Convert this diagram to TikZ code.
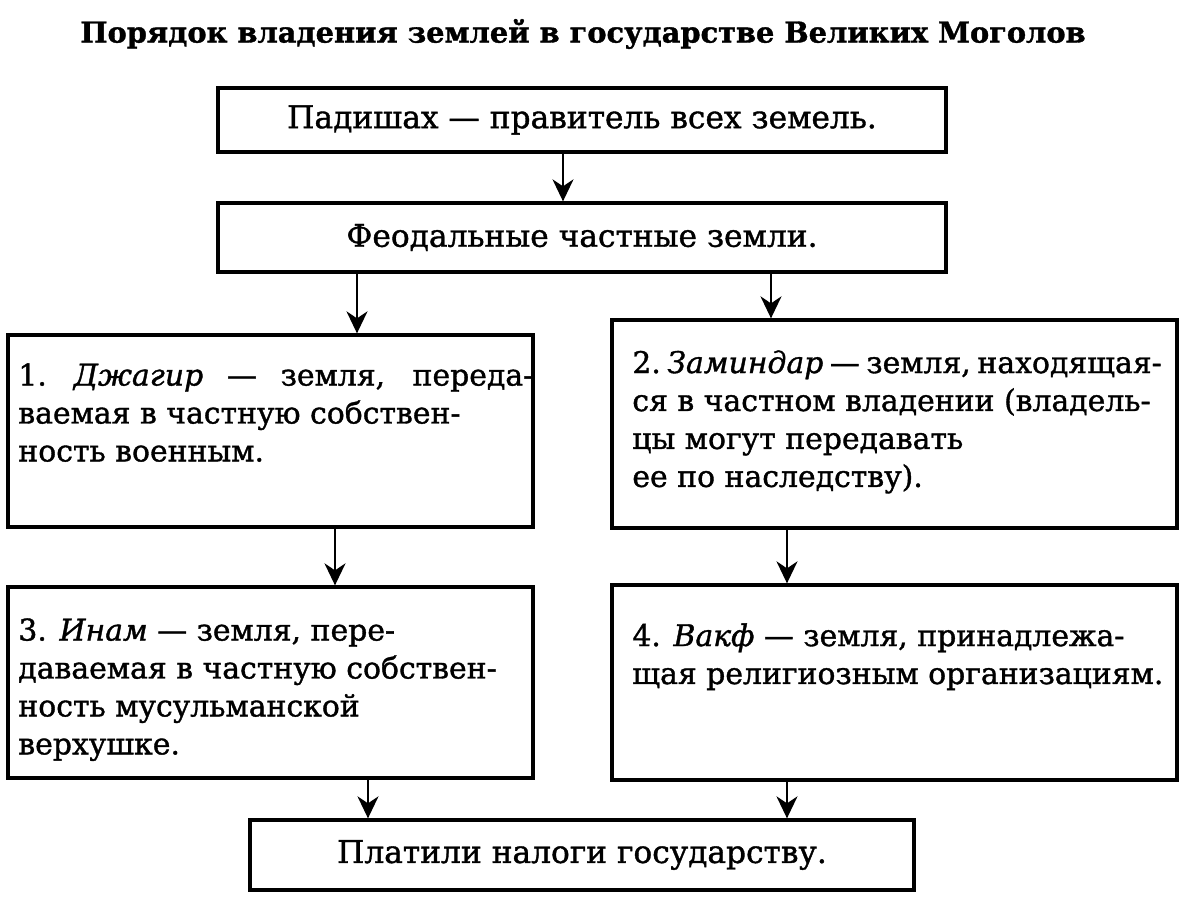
\documentclass[tikz,border=0pt]{standalone}
\usepackage{fontspec}
\setmainfont{DejaVu Serif}[FakeBold=1.2]
\usetikzlibrary{arrows.meta}
\usetikzlibrary{shapes,fit,calc,positioning}

\begin{document}
\begin{tikzpicture}[x=0.02cm,y=-0.02cm,
    box/.style={draw, line width=1.9pt, inner sep=0pt},
    txt/.style={anchor=north west, align=left, inner sep=0pt, font=\fontsize{17}{21.6}\selectfont},
    arr/.style={-{Stealth[length=0.44cm,width=0.42cm,inset=0.14cm]}, line width=1.2pt}]
			\useasboundingbox (0,0) rectangle (1188,906);
			% Define nodes
			\node[font=\fontsize{16.4}{19}\selectfont\bfseries] (ttl) at (583,34) {Порядок владения землей в государстве Великих Моголов}; %
			\node[box, minimum width=14.56cm, minimum height=1.28cm, font=\fontsize{17.8}{21}\selectfont] (pad) at (582,120) {Падишах — правитель всех земель.}; %
			\node[box, minimum width=14.56cm, minimum height=1.38cm, font=\fontsize{17.8}{21}\selectfont] (feod) at (582,237.5) {Феодальные частные земли.}; %
			\node[box, minimum width=10.5cm, minimum height=3.84cm] (dzh) at (270.5,431) {}; %
			\node[box, minimum width=11.3cm, minimum height=4.16cm] (zam) at (894.5,424) {}; %
			\node[box, minimum width=10.5cm, minimum height=3.82cm] (inam) at (270.5,682.5) {}; %
			\node[box, minimum width=11.3cm, minimum height=3.9cm] (vakf) at (894.5,682.5) {}; %
			\node[box, minimum width=13.28cm, minimum height=1.4cm, font=\fontsize{17.8}{21}\selectfont] (nalog) at (582,855) {Платили налоги государству.}; %
			%% texts
			\node[txt] (dzht) at (18,363) {\makebox[10.3cm][s]{1.\kern0.9em\textit{Джагир} — земля, переда-}\\ваемая в частную собствен-\\ность военным.}; %
			\node[txt] (zamt) at (632,350) {2.\hspace{0.22em}\textit{Заминдар}\hspace{0.22em}—\hspace{0.22em}земля,\hspace{0.22em}находящая-\\ся в частном владении (владель-\\цы могут передавать\\ее по наследству).}; %
			\node[txt] (inamt) at (18,618) {3. \textit{Инам} — земля, пере-\\даваемая в частную собствен-\\ность мусульманской\\верхушке.}; %
			\node[txt] (vakft) at (632,623) {4. \textit{Вакф} — земля, принадлежа-\\щая религиозным организациям.}; %
			%%add edge
			\foreach \a/\b/\x in {pad/feod/563, feod/dzh/357, feod/zam/771, dzh/inam/335, zam/vakf/787, inam/nalog/368, vakf/nalog/787}
				\draw[arr] (\a.south -| \x,0) -- (\b.north -| \x,0);
\end{tikzpicture}
\end{document}
